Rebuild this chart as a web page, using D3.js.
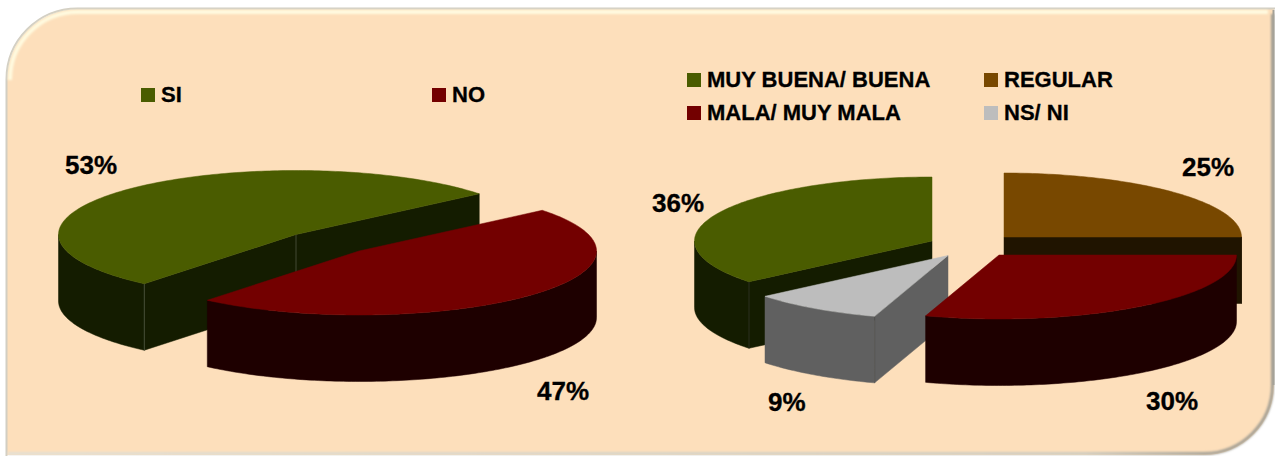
<!DOCTYPE html>
<html>
<head>
<meta charset="utf-8">
<script src="https://cdn.jsdelivr.net/npm/d3@7"></script>
<style>
html,body{margin:0;padding:0;background:#fff;}
svg{display:block;}
text{font-family:"Liberation Sans",Arial,sans-serif;font-weight:bold;fill:#000;stroke:#000;stroke-width:0.3px;}
</style>
</head>
<body>
<svg id="chart" width="1275" height="456"></svg>
<script>
const leftCategories = ["SI", "NO"];
const leftValues = [53, 47];
const rightCategories = ["MUY BUENA/ BUENA", "REGULAR", "MALA/ MUY MALA", "NS/ NI"];
const rightValues = [36, 25, 30, 9];
const leftLabels = ["53%", "47%"];
const rightLabels = ["36%", "25%", "30%", "9%"];

const palette = {
  "SI": ["#4a5c00", "#141c00"],
  "NO": ["#730000", "#1e0000"],
  "MUY BUENA/ BUENA": ["#4a5c00", "#141c00"],
  "REGULAR": ["#784800", "#201400"],
  "MALA/ MUY MALA": ["#730000", "#1e0000"],
  "NS/ NI": ["#bdbdbd", "#606060"]
};

const svg = d3.select("#chart");
const defs = svg.append("defs");
defs.append("filter").attr("id", "soft").append("feGaussianBlur").attr("stdDeviation", 1.1);
const fade = defs.append("linearGradient").attr("id", "bottomFade")
  .attr("gradientUnits", "userSpaceOnUse")
  .attr("x1", 0).attr("y1", 0).attr("x2", 1275).attr("y2", 0);
fade.append("stop").attr("offset", "0").attr("stop-color", "#e4e0d4");
fade.append("stop").attr("offset", "0.85").attr("stop-color", "#cfccc0");
fade.append("stop").attr("offset", "0.96").attr("stop-color", "#a09d93");
const leftFade = defs.append("linearGradient").attr("id", "leftFade")
  .attr("gradientUnits", "userSpaceOnUse")
  .attr("x1", 0).attr("y1", 70).attr("x2", 0).attr("y2", 456);
leftFade.append("stop").attr("offset", "0").attr("stop-color", "#fff6d8");
leftFade.append("stop").attr("offset", "1").attr("stop-color", "#fde6c6");

const panelShape = "M7,80 A71,71 0 0 1 78,9 H1274 V385 A70,70 0 0 1 1204,455 H7 Z";
svg.append("path").attr("d", panelShape).attr("fill", "#fddfbb");
svg.append("path").attr("d", "M6.5,456 V80 A71,71 0 0 1 78,8.5 H1275")
  .attr("fill", "none").attr("stroke", "#d2cec2").attr("stroke-width", 2);
svg.append("path").attr("d", "M10,80 A68,68 0 0 1 78,12 H1268")
  .attr("fill", "none").attr("stroke", "#fffbe0").attr("stroke-width", 4).attr("filter", "url(#soft)");
svg.append("path").attr("d", "M9.5,80 V456")
  .attr("fill", "none").attr("stroke", "url(#leftFade)").attr("stroke-width", 2).attr("filter", "url(#soft)");
svg.append("path").attr("d", "M1272.5,14 V385 A68.5,68.5 0 0 1 1204,453.5 H8")
  .attr("fill", "none").attr("stroke", "url(#bottomFade)").attr("stroke-width", 3).attr("filter", "url(#soft)");
svg.append("path").attr("d", "M1273.5,10 V385")
  .attr("fill", "none").attr("stroke", "#a5a298").attr("stroke-width", 2);

const DEG = Math.PI / 180;
const RX = 237.5, RY = 64, DEPTH = 66.5;
const line = d3.line();

function pt(cx, cy, a) {
  return [cx + RX * Math.sin(a), cy - RY * Math.cos(a)];
}
function arcPts(cx, cy, a0, a1) {
  const n = Math.max(2, Math.ceil(Math.abs(a1 - a0) / (1 * DEG)));
  return d3.range(n + 1).map(i => pt(cx, cy, a0 + (a1 - a0) * i / n));
}

function drawPie(names, values, opts) {
  const arcs = d3.pie().sort(null).value(d => d)
    .startAngle(opts.start * DEG).endAngle((opts.start + 360) * DEG)(values);
  const g = svg.append("g");
  opts.order.forEach(i => {
    const s = arcs[i];
    const [cx, cy] = opts.centers[i];
    const [topCol, sideCol] = palette[names[i]];
    const a0 = s.startAngle, a1 = s.endAngle;
    const slice = g.append("g");
    const down = p => [p[0], p[1] + DEPTH];
    const wall = pts => slice.append("path")
      .attr("d", line(pts.concat(pts.slice().reverse().map(down))) + "Z")
      .attr("fill", sideCol).attr("stroke", sideCol).attr("stroke-width", 0.5);
    const apex = [cx, cy];
    const pStart = pt(cx, cy, a0), pEnd = pt(cx, cy, a1);
    const startVisible = Math.sin(a0) < -1e-6;
    const endVisible = Math.sin(a1) > 1e-6;
    if (startVisible) wall([pStart, apex]);
    if (endVisible) wall([apex, pEnd]);
    [[90, 270], [450, 630], [-270, -90]].forEach(([f0, f1]) => {
      const lo = Math.max(a0, f0 * DEG), hi = Math.min(a1, f1 * DEG);
      if (hi > lo) wall(arcPts(cx, cy, lo, hi));
    });
    const edge = p => slice.append("line")
      .attr("x1", p[0]).attr("y1", p[1]).attr("x2", p[0]).attr("y2", p[1] + DEPTH)
      .attr("stroke", opts.edge).attr("stroke-width", 1).attr("stroke-opacity", opts.edgeOpacity);
    if (startVisible && endVisible) edge(apex);
    if (startVisible) edge(pStart);
    slice.append("path")
      .attr("d", line([apex].concat(arcPts(cx, cy, a0, a1))) + "Z")
      .attr("fill", topCol).attr("stroke", topCol).attr("stroke-width", 0.5);
  });
}

drawPie(leftCategories, leftValues, {
  start: -140.3,
  centers: [[296, 234.5], [359, 251]],
  order: [0, 1],
  edge: "#4f5640",
  edgeOpacity: 0.8
});
drawPie(rightCategories, rightValues, {
  start: -129.6,
  centers: [[932, 241], [1004, 237], [999, 255], [948, 255.5]],
  order: [1, 0, 3, 2],
  edge: "#4a4a44",
  edgeOpacity: 0.45
});

function legend(items, places) {
  items.forEach((name, i) => {
    const [x, y] = places[i];
    svg.append("rect").attr("x", x).attr("y", y).attr("width", 14).attr("height", 14)
      .attr("fill", palette[name][0]);
    svg.append("text").attr("x", x + 20).attr("y", y + 14)
      .attr("font-size", 22).text(name);
  });
}
legend(leftCategories, [[141, 88], [432, 88]]);
legend(rightCategories, [[687, 73], [984, 73], [687, 106], [984, 106]]);

function labels(texts, places) {
  texts.forEach((t, i) => {
    svg.append("text").attr("x", places[i][0]).attr("y", places[i][1])
      .attr("font-size", 26).text(t);
  });
}
labels(leftLabels, [[65, 174], [537, 400]]);
labels(rightLabels, [[652, 212], [1182, 176], [1146, 410], [768, 411]]);
</script>
</body>
</html>
